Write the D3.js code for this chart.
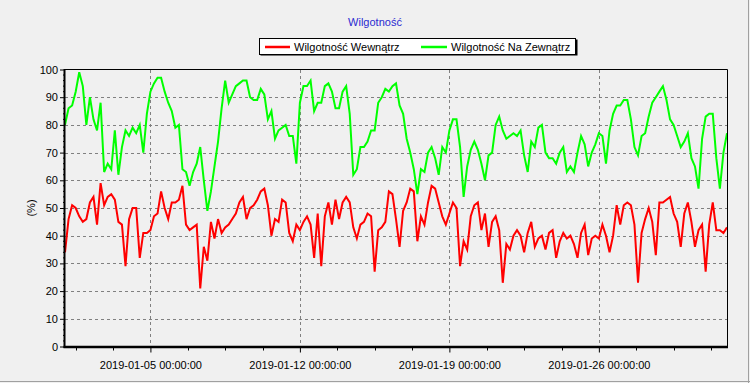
<!DOCTYPE html>
<html>
<head>
<meta charset="utf-8">
<script src="https://cdn.jsdelivr.net/npm/d3@7"></script>
<style>
  html, body { margin: 0; padding: 0; background: #f0f0f0; }
  svg { display: block; }
  text { font-family: "Liberation Sans Narrow", "Arial Narrow", "Liberation Sans", sans-serif; font-size: 11px; fill: #000; }
</style>
</head>
<body>
<div id="chart"></div>
<script>
// Readings start 2019-01-01 00:00 UTC, one every 4 hours
const START = Date.UTC(2019, 0, 1);
const STEP_HOURS = 4;

const seriesNames = ["Wilgotność Wewnątrz", "Wilgotność Na Zewnątrz"];

const inside = [
  34,46,51,50,47,45,46,52,54,44,59,51,54,55,53,45,44,29,46,50,50,32,41,41,42,47,48,56,50,46,
  52,52,53,58,44,42,43,44,21,36,31,45,39,46,41,43,44,46,48,52,54,46,50,51,53,56,57,51,40,46,
  45,53,52,41,38,44,42,45,47,44,32,48,29,47,52,44,53,46,52,54,52,43,39,44,45,48,47,27,42,43,
  45,56,55,46,36,49,52,57,56,38,47,44,52,58,57,52,47,44,48,52,50,29,38,35,47,51,52,42,48,36,
  45,47,42,23,37,35,40,42,40,34,41,45,36,39,40,35,41,42,32,38,41,39,40,37,32,41,44,33,39,40,
  39,44,40,34,40,51,44,51,52,51,44,23,41,46,50,45,33,52,52,53,54,48,45,36,48,52,45,36,42,44,
  27,44,52,42,42,41,43
];

const outside = [
  80,86,87,92,99,94,80,90,82,78,88,63,66,64,78,62,72,78,76,79,77,80,70,84,92,95,97,97,92,88,
  85,79,80,64,63,58,63,66,72,60,49,56,65,74,86,96,88,91,94,95,96,96,90,89,89,93,91,82,85,75,
  78,79,80,76,76,66,88,94,94,96,85,88,88,94,95,92,86,86,92,94,84,62,64,72,72,74,78,78,88,90,
  93,92,94,95,87,84,75,70,64,55,64,63,70,72,68,62,72,70,78,82,82,72,54,65,71,74,71,66,60,69,
  70,80,83,78,75,76,77,76,78,69,63,74,72,79,80,70,68,68,66,70,72,63,65,63,70,76,73,65,70,73,
  77,76,66,78,84,87,87,89,89,82,72,69,76,77,83,88,90,92,94,89,82,80,76,72,74,77,68,65,57,75,
  83,84,84,68,57,70,77
];

const xDomain = [new Date(Date.UTC(2019, 0, 1)), new Date(Date.UTC(2019, 1, 1))];
const xTickDates = [Date.UTC(2019, 0, 5), Date.UTC(2019, 0, 12), Date.UTC(2019, 0, 19), Date.UTC(2019, 0, 26)];
const yTicks = [0, 10, 20, 30, 40, 50, 60, 70, 80, 90, 100];

const colors = ["#ff0000", "#00ff00"];
const FONT = '"Liberation Sans Narrow", "Arial Narrow", "Liberation Sans", sans-serif';

const W = 750, H = 383;
const L = 65, R = 727, T = 69.5, B = 346.5;

const svg = d3.select("#chart").append("svg")
  .attr("width", W).attr("height", H);

// outer frame shadow
svg.append("line").attr("x1", 0).attr("x2", W).attr("y1", 381.5).attr("y2", 381.5)
  .attr("stroke", "#a0a0a0");
svg.append("line").attr("x1", 748.5).attr("x2", 748.5).attr("y1", 0).attr("y2", H)
  .attr("stroke", "#a0a0a0");

const x = d3.scaleUtc().domain(xDomain).range([L, R]);
const y = d3.scaleLinear().domain([0, 100]).range([B, T]);

const toPoints = vals => vals.map((v, i) => ({ t: new Date(START + i * STEP_HOURS * 3600e3), v }));

// title
svg.append("text")
  .attr("x", 375).attr("y", 26)
  .attr("text-anchor", "middle")
  .style("fill", "#2a2ad0")
  .text("Wilgotność");

// legend
const lg = svg.append("g");
lg.append("rect").attr("x", 260.5).attr("y", 39.5).attr("width", 317).attr("height", 16)
  .attr("fill", "#000");
lg.append("rect").attr("x", 259.5).attr("y", 38.5).attr("width", 316).attr("height", 16)
  .attr("fill", "#fff").attr("stroke", "#000");
const legendX = [[265, 290, 294], [421, 447, 451]];
seriesNames.forEach((name, i) => {
  lg.append("line")
    .attr("x1", legendX[i][0]).attr("x2", legendX[i][1])
    .attr("y1", 47).attr("y2", 47)
    .attr("stroke", colors[i]).attr("stroke-width", 2.5);
  lg.append("text").attr("x", legendX[i][2]).attr("y", 51).text(name);
});

// grid
const grid = svg.append("g")
  .attr("stroke", "#808080").attr("stroke-dasharray", "3,3")
  .attr("shape-rendering", "crispEdges");
grid.selectAll(".hg").data(yTicks.filter(d => d > 0 && d < 100)).join("line")
  .attr("x1", L).attr("x2", R)
  .attr("y1", d => Math.round(y(d)) + 0.5).attr("y2", d => Math.round(y(d)) + 0.5);
grid.selectAll(".vg").data(xTickDates).join("line")
  .attr("x1", d => Math.round(x(d)) + 0.5).attr("x2", d => Math.round(x(d)) + 0.5)
  .attr("y1", T).attr("y2", B);

// series lines (clipped to plot area)
svg.append("clipPath").attr("id", "clip")
  .append("rect").attr("x", L).attr("y", T).attr("width", R - L).attr("height", B - T);

const line = d3.line().x(d => x(d.t)).y(d => y(d.v));
const plot = svg.append("g").attr("clip-path", "url(#clip)");
[inside, outside].forEach((vals, i) => {
  plot.append("path")
    .datum(toPoints(vals))
    .attr("fill", "none")
    .attr("stroke", colors[i])
    .attr("stroke-width", 2)
    .attr("stroke-linejoin", "miter")
    .attr("d", line);
});

// plot frame: thin top/right, heavy left/bottom
svg.append("line").attr("x1", L).attr("x2", R + 0.5).attr("y1", T).attr("y2", T).attr("stroke", "#000");
svg.append("line").attr("x1", R + 0.5).attr("x2", R + 0.5).attr("y1", T).attr("y2", B).attr("stroke", "#000");

// y axis
const minorY = d3.range(0, 101, 2).filter(d => d % 10 !== 0);
const yAxis = svg.append("g").attr("transform", `translate(${L},0)`)
  .call(d3.axisLeft(y).tickValues(yTicks).tickSize(5).tickPadding(2));
yAxis.select(".domain").remove();
yAxis.selectAll("text").style("font-size", "11px").style("font-family", FONT);
svg.append("g").attr("stroke", "#000").selectAll("line").data(minorY).join("line")
  .attr("x1", L - 2).attr("x2", L).attr("y1", d => y(d)).attr("y2", d => y(d));
svg.append("line").attr("x1", L - 0.5).attr("x2", L - 0.5).attr("y1", T - 0.5).attr("y2", B + 1.5)
  .attr("stroke", "#000").attr("stroke-width", 2);

// x axis
const fmt = d3.utcFormat("%Y-%m-%d %H:%M:%S");
const xAxis = svg.append("g").attr("transform", `translate(0,${B + 1})`)
  .call(d3.axisBottom(x).tickValues(xTickDates.map(d => new Date(d))).tickSize(5).tickPadding(9).tickFormat(fmt));
xAxis.select(".domain").remove();
xAxis.selectAll("text").style("font-size", "11px").style("font-family", FONT);
const minorX = [];
xTickDates.forEach(d => {
  for (let k = 1; k < 4; k++) minorX.push(d + k * 42 * 3600e3);
});
minorX.push(xTickDates[0] - 42 * 3600e3, xTickDates[0] - 84 * 3600e3);
svg.append("g").attr("stroke", "#000").selectAll("line")
  .data(minorX.filter(d => x(d) > L && x(d) < R)).join("line")
  .attr("x1", d => Math.round(x(d)) + 0.5).attr("x2", d => Math.round(x(d)) + 0.5)
  .attr("y1", B).attr("y2", B + 4);
svg.append("line").attr("x1", L - 1.5).attr("x2", R + 1).attr("y1", B + 0.5).attr("y2", B + 0.5)
  .attr("stroke", "#000").attr("stroke-width", 2.5);

// y label
svg.append("text")
  .attr("transform", `translate(35,${(T + B) / 2}) rotate(-90)`)
  .attr("text-anchor", "middle")
  .text("(%)");
</script>
</body>
</html>
